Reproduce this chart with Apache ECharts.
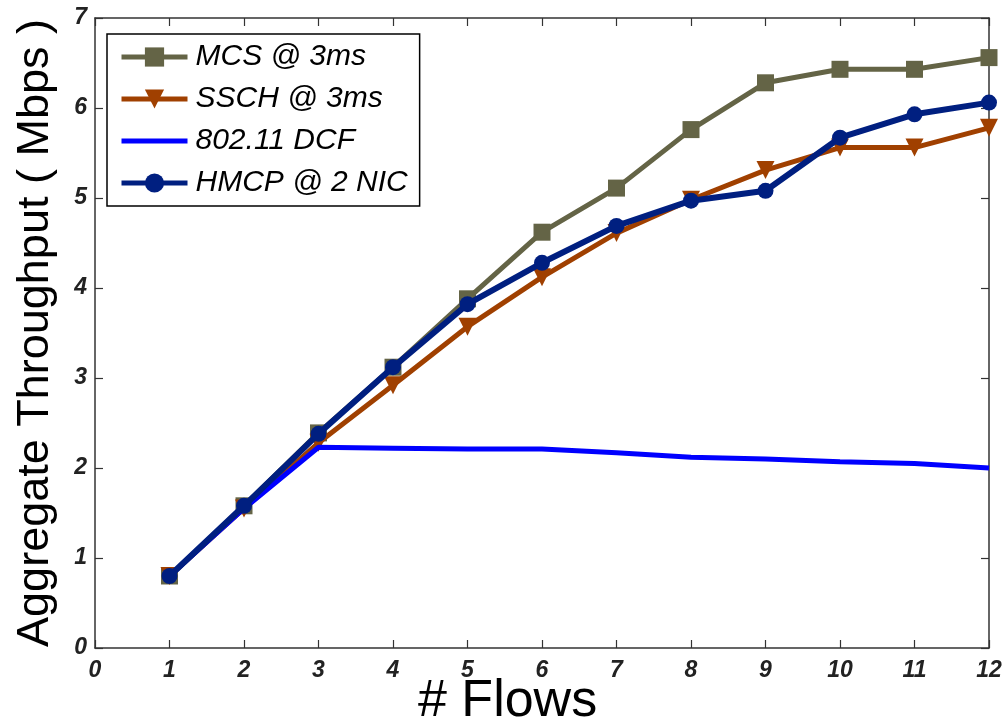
<!DOCTYPE html>
<html><head><meta charset="utf-8">
<script src="https://cdn.jsdelivr.net/npm/echarts@6/dist/echarts.min.js"></script>
<style>html,body{margin:0;padding:0;background:#fff}#c{width:1008px;height:728px}</style>
</head><body><div id="c"></div>
<script>
const flows = [1,2,3,4,5,6,7,8,9,10,11,12];
const xTicks = ['0','1','2','3','4','5','6','7','8','9','10','11','12'];
const mcs  = [0.80,1.58,2.39,3.12,3.88,4.62,5.11,5.76,6.28,6.43,6.43,6.56];
const ssch = [0.80,1.55,2.28,2.92,3.57,4.12,4.61,4.98,5.31,5.56,5.56,5.78];
const dcf  = [0.80,1.55,2.23,2.22,2.21,2.21,2.17,2.12,2.10,2.07,2.05,2.00];
const hmcp = [0.80,1.58,2.38,3.12,3.82,4.28,4.69,4.97,5.08,5.67,5.93,6.06];
const names = ['MCS @ 3ms','SSCH @ 3ms','802.11 DCF','HMCP @ 2 NIC'];
const colors = ['#646446','#a04000','#0000ff','#001f80'];

const pair = arr => arr.map((v,i)=>[flows[i],v]);
const chart = echarts.init(document.getElementById('c'));
const axisLine = {show:true, onZero:false, lineStyle:{color:'#333', width:1.5}};
const tickIn = {show:true, inside:true, length:8, lineStyle:{color:'#333', width:1.2}};
const lblFont = {fontFamily:'Liberation Sans, Arial, sans-serif', fontStyle:'italic', fontWeight:'bold', fontSize:23, color:'#222'};
chart.setOption({
  animation:false,
  backgroundColor:'#fff',
  grid:{left:95, right:19, top:18, bottom:80, containLabel:false, outerBoundsMode:'none'},
  legend:{
    left:107, top:34, orient:'vertical', itemWidth:66, itemHeight:24, itemGap:12,
    padding:[8,12,8,12], borderColor:'#000', borderWidth:1.5, backgroundColor:'#fff',
    lineStyle:{width:5},
    textStyle:{fontFamily:'Liberation Sans, Arial, sans-serif', fontStyle:'italic', fontSize:30, lineHeight:30, color:'#000', padding:[0,0,0,3]},
    data:[
      {name:names[0]},
      {name:names[1]},
      {name:names[2], itemStyle:{opacity:0}},
      {name:names[3]}
    ]
  },
  xAxis:[{
    type:'value', min:0, max:12, interval:1, position:'bottom',
    axisLine:axisLine, axisTick:tickIn, splitLine:{show:false},
    axisLabel:Object.assign({margin:11, formatter:v=>xTicks[v]}, lblFont)
  },{
    type:'value', min:0, max:12, interval:1, position:'top',
    axisLine:axisLine, axisTick:tickIn, axisLabel:{show:false}, splitLine:{show:false}
  }],
  yAxis:[{
    type:'value', min:0, max:7, interval:1, position:'left',
    axisLine:axisLine, axisTick:tickIn, splitLine:{show:false},
    axisLabel:Object.assign({margin:8}, lblFont),
    name:'Aggregate Throughput ( Mbps )', nameLocation:'middle', nameGap:37, nameRotate:90,
    nameTextStyle:{fontFamily:'Liberation Sans, Arial, sans-serif', fontSize:45, color:'#000'}
  },{
    type:'value', min:0, max:7, interval:1, position:'right',
    axisLine:axisLine, axisTick:tickIn, axisLabel:{show:false}, splitLine:{show:false}
  }],
  graphic:[{
    type:'text', left:418, top:676,
    style:{text:'# Flows', fontFamily:'Liberation Sans, Arial, sans-serif', fontSize:52, fill:'#000'}
  }],
  series:[
    {name:names[0], type:'line', data:pair(mcs), symbol:'rect', symbolSize:17,
     itemStyle:{color:colors[0]}, lineStyle:{color:colors[0], width:5}, z:2},
    {name:names[1], type:'line', data:pair(ssch), symbol:'triangle', symbolRotate:180, symbolSize:18,
     itemStyle:{color:colors[1]}, lineStyle:{color:colors[1], width:5}, z:3},
    {name:names[2], type:'line', data:pair(dcf), symbol:'none',
     itemStyle:{color:colors[2]}, lineStyle:{color:colors[2], width:5}, z:4},
    {name:names[3], type:'line', data:pair(hmcp), symbol:'circle', symbolSize:16,
     itemStyle:{color:colors[3]}, lineStyle:{color:colors[3], width:6}, z:5}
  ]
});
</script></body></html>
